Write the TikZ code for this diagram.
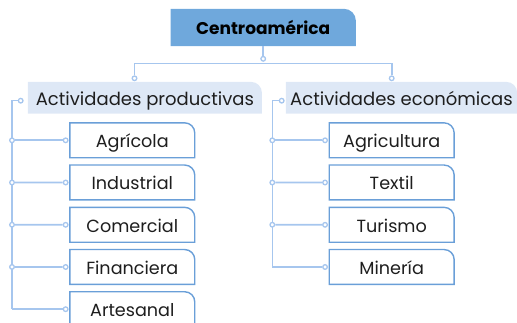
\documentclass[tikz,border=0pt]{standalone}
\usepackage{fontspec}
\setmainfont{Poppins}
\usetikzlibrary{backgrounds}
\definecolor{rootfill}{HTML}{6FA8DC}
\definecolor{lonefill}{HTML}{DEE8F6}
\definecolor{ltwoline}{HTML}{6A9FD8}
\definecolor{lc}{HTML}{A6C6EE}
\definecolor{tc}{HTML}{1E1E1E}
\tikzset{
  conn/.style={draw=lc, line width=1.6pt},
  dot/.style={circle, draw=lc, fill=white, line width=1.3pt, minimum size=4.6pt, inner sep=0pt},
  rootbox/.style={minimum width=185pt, text height=26pt, text depth=11pt, inner sep=0pt, text=black, font=\fontsize{17}{20}\selectfont\bfseries},
  lonebox/.style={text height=23.7pt, text depth=7.6pt, inner sep=0pt, text=tc, font=\fontsize{18}{21}\selectfont},
  ltwobox/.style={minimum width=124.5pt, text height=24.6pt, text depth=9.9pt, inner sep=0pt, text=tc, font=\fontsize{17.6}{21}\selectfont},
}
\begin{document}
\begin{tikzpicture}[x=1pt,y=-1pt]
\useasboundingbox (0,0) rectangle (517,323);
% root
\node[rootbox] (root) at (263.2,27.5) {Centroamérica};
% level 1
\node[lonebox, minimum width=233.7pt] (prod) at (144.9,97.7) {Actividades productivas};
\node[lonebox, minimum width=231pt] (econ) at (401.5,97.7) {Actividades económicas};
% level 2 left
\node[ltwobox] (p1) at (132.3,140.3) {Agrícola};
\node[ltwobox] (p2) at (132.3,182.5) {Industrial};
\node[ltwobox] (p3) at (132.3,224.8) {Comercial};
\node[ltwobox] (p4) at (132.3,267.0) {Financiera};
\node[ltwobox] (p5) at (132.3,309.2) {Artesanal};
% level 2 right
\node[ltwobox] (e1) at (391.7,140.3) {Agricultura};
\node[ltwobox] (e2) at (391.7,182.5) {Textil};
\node[ltwobox] (e3) at (391.7,224.8) {Turismo};
\node[ltwobox] (e4) at (391.7,267.0) {Minería};
% box outlines
\begin{scope}[on background layer]
\path[fill=rootfill] (root.south west) -- (root.north west) -- ([xshift=-12pt]root.north east) arc[start angle=90,end angle=0,radius=12pt] -- (root.south east) -- cycle;
\foreach \n in {prod,econ}
  \path[fill=lonefill] (\n.south west) -- (\n.north west) -- ([xshift=-11pt]\n.north east) arc[start angle=90,end angle=0,radius=11pt] -- (\n.south east) -- cycle;
\foreach \n in {p1,p2,p3,p4,p5,e1,e2,e3,e4}
  \draw[draw=ltwoline, line width=1.4pt, fill=white] (\n.south west) -- (\n.north west) -- ([xshift=-10pt]\n.north east) arc[start angle=90,end angle=0,radius=10pt] -- (\n.south east) -- cycle;
\end{scope}
% root connectors
\node[dot] (rd) at (263.2,58.8) {};
\draw[conn] (root.south) -- (rd.north);
\coordinate (busl) at (134.5,63.7);
\coordinate (busr) at (391.7,63.7);
\node[dot] (dprod) at (134.5,78.3) {};
\node[dot] (decon) at (391.7,78.3) {};
\draw[conn] (dprod.north) -- (busl) -- (busr) -- (decon.north);
% left tree
\coordinate (ltop) at (12,100.7);
\coordinate (lbot) at (12,309.2);
\node[dot] (sprod) at (20.7,100.7) {};
\draw[conn] (sprod.west) -- (ltop) -- (lbot);
\foreach \i in {1,2,3,4}{
  \node[dot] (lt\i) at (12,{140.3+42.22*(\i-1)}) {};
}
\foreach \i in {1,...,5}{
  \node[dot] (lb\i) at ([xshift=-4.2pt]p\i.west) {};
}
\foreach \i in {1,2,3,4}
  \draw[conn] (lt\i.east) -- (lb\i.west);
\draw[conn] (lbot) -- (lb5.west);
% right tree
\coordinate (rtop) at (272.3,100.7);
\coordinate (rbot) at (272.3,267.0);
\node[dot] (secon) at (281.7,100.7) {};
\draw[conn] (secon.west) -- (rtop) -- (rbot);
\foreach \i in {1,2,3}{
  \node[dot] (rt\i) at (272.3,{140.3+42.22*(\i-1)}) {};
}
\foreach \i in {1,...,4}{
  \node[dot] (rb\i) at ([xshift=-4.2pt]e\i.west) {};
}
\foreach \i in {1,2,3}
  \draw[conn] (rt\i.east) -- (rb\i.west);
\draw[conn] (rbot) -- (rb4.west);
\end{tikzpicture}
\end{document}
